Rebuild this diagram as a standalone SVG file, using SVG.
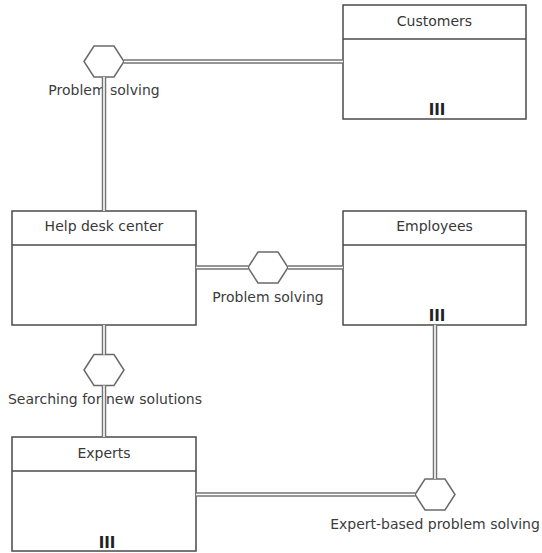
<svg xmlns="http://www.w3.org/2000/svg" xmlns:xlink="http://www.w3.org/1999/xlink" width="542" height="553" viewBox="0 0 542 553">
  <style>
    .box { fill: #ffffff; stroke: #4a4a4a; stroke-width: 1.5; }
    .div { stroke: #4a4a4a; stroke-width: 1.5; }
    .hex { fill: #ffffff; stroke: #6a6a6a; stroke-width: 1.5; }
    .title { font-family: "DejaVu Sans", "Liberation Sans", sans-serif; font-size: 14px; fill: #383838; text-anchor: middle; }
    .label { font-family: "DejaVu Sans", "Liberation Sans", sans-serif; font-size: 14px; fill: #3c3c3c; text-anchor: middle; }
    .mult { font-family: "DejaVu Sans", "Liberation Sans", sans-serif; font-size: 15px; font-weight: bold; fill: #222222; text-anchor: middle; }
    .rail { fill: none; stroke: #737373; stroke-width: 4.5; }
    .gap { fill: none; stroke: #ffffff; stroke-width: 1.6; }
  </style>
  <defs>
    <polygon id="hexShape" class="hex" points="-20,0 -10,-15.5 10,-15.5 20,0 10,15.5 -10,15.5"/>
  </defs>

  <rect width="542" height="553" fill="#ffffff"/>

  <!-- entity types -->
  <g id="customers">
    <rect class="box" x="343" y="5" width="183" height="114"/>
    <line class="div" x1="343" y1="39" x2="526" y2="39"/>
    <text class="title" x="434.5" y="25.5">Customers</text>
    <text class="mult" x="437" y="115">III</text>
  </g>
  <g id="help-desk-center">
    <rect class="box" x="12" y="211" width="184" height="114"/>
    <line class="div" x1="12" y1="245" x2="196" y2="245"/>
    <text class="title" x="104" y="230.5">Help desk center</text>
  </g>
  <g id="employees">
    <rect class="box" x="343" y="211" width="183" height="114"/>
    <line class="div" x1="343" y1="245" x2="526" y2="245"/>
    <text class="title" x="434.5" y="230.5">Employees</text>
    <text class="mult" x="437" y="321">III</text>
  </g>
  <g id="experts">
    <rect class="box" x="12" y="437" width="184" height="114"/>
    <line class="div" x1="12" y1="471" x2="196" y2="471"/>
    <text class="title" x="104" y="457.5">Experts</text>
    <text class="mult" x="107" y="548">III</text>
  </g>

  <!-- relationship types -->
  <g id="rel-customer-problem-solving">
    <use xlink:href="#hexShape" transform="translate(104,61.5)"/>
    <text class="label" x="104" y="95">Problem solving</text>
  </g>
  <g id="rel-employee-problem-solving">
    <use xlink:href="#hexShape" transform="translate(268,267.5)"/>
    <text class="label" x="268" y="302">Problem solving</text>
  </g>
  <g id="rel-searching">
    <use xlink:href="#hexShape" transform="translate(104,370)"/>
    <text class="label" x="105" y="404">Searching for new solutions</text>
  </g>
  <g id="rel-expert-based">
    <use xlink:href="#hexShape" transform="translate(435,494.5)"/>
    <text class="label" x="435" y="529">Expert-based problem solving</text>
  </g>

  <!-- double-line connectors -->
  <g id="connectors">
    <g class="rail">
      <path d="M124,61.5 H343"/>
      <path d="M104,77 V211"/>
      <path d="M196,267.5 H248"/>
      <path d="M288,267.5 H343"/>
      <path d="M104,325 V354.5"/>
      <path d="M104,385.5 V437"/>
      <path d="M435,325 V479"/>
      <path d="M196,494.5 H415"/>
    </g>
    <g class="gap">
      <path d="M124,61.5 H343"/>
      <path d="M104,77 V211"/>
      <path d="M196,267.5 H248"/>
      <path d="M288,267.5 H343"/>
      <path d="M104,325 V354.5"/>
      <path d="M104,385.5 V437"/>
      <path d="M435,325 V479"/>
      <path d="M196,494.5 H415"/>
    </g>
  </g>
</svg>
